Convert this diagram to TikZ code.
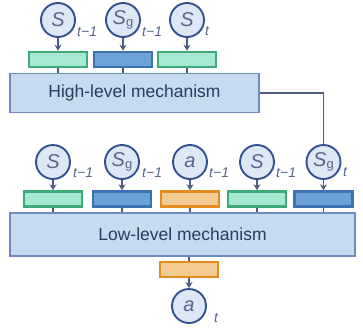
\documentclass[tikz,border=0pt]{standalone}
\usepackage{fontspec}
\setmainfont{Liberation Sans}
\usetikzlibrary{arrows.meta}
\definecolor{circline}{HTML}{34508F}
\definecolor{circfill}{HTML}{DDE8F6}
\definecolor{grfill}{HTML}{A6E8D2}
\definecolor{grline}{HTML}{3DAA7A}
\definecolor{blfill}{HTML}{6CA2D6}
\definecolor{blline}{HTML}{3C72B4}
\definecolor{orfill}{HTML}{F3CA90}
\definecolor{orline}{HTML}{E38D20}
\definecolor{mechfill}{HTML}{C6DBEF}
\definecolor{mechline}{HTML}{6E8BBE}
\definecolor{wire}{HTML}{4E5D7E}
\definecolor{labtext}{HTML}{2F3B5E}
\definecolor{subtext}{HTML}{56658A}
\tikzset{
  var/.style={circle, draw=circline, fill=circfill, line width=1.9pt, minimum size=34pt, inner sep=0pt, text=subtext, font=\fontsize{20}{20}\selectfont\itshape},
  sub/.style={anchor=west, inner sep=0pt, text=subtext, font=\fontsize{14}{14}\selectfont\itshape},
  emb/.style={rectangle, line width=2.5pt, minimum width=58pt, minimum height=15pt, inner sep=0pt},
  gremb/.style={emb, draw=grline, fill=grfill},
  blemb/.style={emb, draw=blline, fill=blfill},
  oremb/.style={emb, draw=orline, fill=orfill},
  mech/.style={rectangle, draw=mechline, fill=mechfill, line width=1.3pt, inner sep=0pt, text=labtext, font=\fontsize{17.5}{17.5}\selectfont},
  feed/.style={draw=wire, line width=1.4pt, -{Stealth[length=6pt,width=7pt]}},
  wirel/.style={draw=wire, line width=1.4pt}
}
\newcommand{\Sg}{\textit{S}{\fontsize{13}{13}\selectfont\upshape\raisebox{-2pt}{g}}}
\begin{document}
\begin{tikzpicture}[x=1pt,y=-1pt]
\useasboundingbox (0,0) rectangle (363,327);
% high-level mechanism and its inputs
\node[mech, minimum width=249pt, minimum height=39pt] (high) at (134.5,93) {High-level mechanism};
\node[var] (hs1) at (58,20) {S};
\node[var] (hg1) at (123,20) {\Sg};
\node[var] (hs2) at (187,20) {S};
\node[sub] (hs1t) at (77,31.5) {t−1};
\node[sub] (hg1t) at (142,31.5) {t−1};
\node[sub] (hs2t) at (205,31.5) {t};
\node[gremb] (he1) at (58,59.5) {};
\node[blemb] (he2) at (123,59.5) {};
\node[gremb] (he3) at (187,59.5) {};
\foreach \v/\e in {hs1/he1, hg1/he2, hs2/he3}{
  \draw[feed] (\v.south) -- (\e.north);
  \draw[wirel] (\e.south) -- (\e.south |- high.north);
}
% low-level mechanism and its inputs
\node[mech, minimum width=345pt, minimum height=43pt] (low) at (182.5,234.5) {Low-level mechanism};
\node[var] (ls1) at (53,162) {S};
\node[var] (lg1) at (122,162) {\Sg};
\node[var] (la1) at (190,162) {a};
\node[var] (ls2) at (257,162) {S};
\node[var] (lg2) at (323.5,162) {\Sg};
\node[sub] (ls1t) at (73,172.5) {t−1};
\node[sub] (lg1t) at (142,172.5) {t−1};
\node[sub] (la1t) at (209,172.5) {t−1};
\node[sub] (ls2t) at (276,172.5) {t−1};
\node[sub] (lg2t) at (343,172.5) {t};
\node[gremb] (le1) at (53,199) {};
\node[blemb] (le2) at (122,199) {};
\node[oremb] (le3) at (190,199) {};
\node[gremb] (le4) at (257,199) {};
\node[blemb] (le5) at (323.5,199) {};
\foreach \v/\e in {ls1/le1, lg1/le2, la1/le3, ls2/le4, lg2/le5}{
  \draw[feed] (\v.south) -- (\e.north);
  \draw[wirel] (\e.south) -- (\e.south |- low.north);
}
% goal handed down from the high level
\draw[wirel] (high.east |- 0,93) -| (lg2.north);
% action output
\node[oremb] (out) at (189,269.5) {};
\node[var] (act) at (189,306) {a};
\node[sub] (actt) at (214,318) {t};
\draw[wirel] (out.north |- low.south) -- (out.north);
\draw[feed] (out.south) -- (act.north);
\end{tikzpicture}
\end{document}
